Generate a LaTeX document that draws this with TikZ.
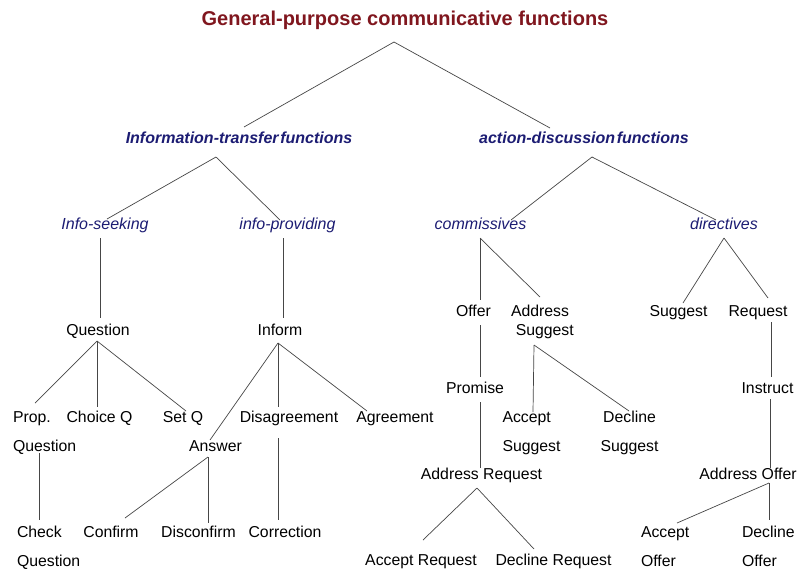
\documentclass[tikz,border=0pt]{standalone}
\usepackage{fontspec}
\setmainfont{Liberation Sans}
\definecolor{titlered}{RGB}{128,22,30}
\definecolor{navy}{RGB}{28,28,115}
\definecolor{linegray}{RGB}{70,70,70}
\newcommand\twoL[3][29pt]{\vtop{\baselineskip=#1\halign{##\hfil\cr #2\cr #3\cr}}}
\newcommand\twoC[3][29pt]{\vtop{\baselineskip=#1\halign{\hfil##\hfil\cr #2\cr #3\cr}}}
\begin{document}
\begin{tikzpicture}[x=1pt,y=-1pt,
  lbl/.style={inner sep=0pt,outer sep=0pt,font=\fontsize{15.8}{19}\selectfont,text=black},
  cat/.style={inner sep=0pt,outer sep=0pt,font=\fontsize{16}{19}\selectfont\bfseries\itshape,text=navy},
  sub/.style={inner sep=0pt,outer sep=0pt,font=\fontsize{16}{19}\selectfont\itshape,text=navy},
  ttl/.style={inner sep=0pt,outer sep=0pt,font=\fontsize{20}{24}\selectfont\bfseries,text=titlered},
  edge/.style={draw=linegray,line width=0.7pt}]
\path[use as bounding box,fill=white] (0,0) rectangle (798,571);
% title and categories
\node[ttl,anchor=base] (title) at (405,25) {General-purpose communicative functions};
\node[cat,anchor=base] (it) at (239,143) {Information-transfer\hspace{0.1em}functions};
\node[cat,anchor=base] (ad) at (584,143) {action-discussion\hspace{0.1em}functions};
\node[sub,anchor=base] (seek) at (105,229.5) {Info-seeking};
\node[sub,anchor=base] (prov) at (287.5,229.5) {info-providing};
\node[sub,anchor=base] (comm) at (480.5,229.5) {commissives};
\node[sub,anchor=base] (dir) at (724,229.5) {directives};
% information transfer side
\node[lbl,anchor=base] (question) at (98,335.5) {Question};
\node[lbl,anchor=base] (inform) at (280,335.5) {Inform};
\node[lbl,anchor=base west] (propq) at (13,422.5) {\twoL{Prop.}{Question}};
\node[lbl,anchor=base] (choiceq) at (99.5,422.5) {Choice Q};
\node[lbl,anchor=base] (setq) at (183,422.5) {Set Q};
\node[lbl,anchor=base] (disag) at (289,422.5) {Disagreement};
\node[lbl,anchor=base] (agree) at (395,422.5) {Agreement};
\node[lbl,anchor=base] (answer) at (215.5,451.5) {Answer};
\node[lbl,anchor=base west] (checkq) at (17,537.5) {\twoL{Check}{Question}};
\node[lbl,anchor=base] (confirm) at (111,537.5) {Confirm};
\node[lbl,anchor=base] (disconfirm) at (198.5,537.5) {Disconfirm};
\node[lbl,anchor=base] (correction) at (285,537.5) {Correction};
% action discussion side
\node[lbl,anchor=base] (offer) at (473.5,316.5) {Offer};
\node[lbl,anchor=base] (addsug) at (540,316.5) {\twoC[19pt]{Address}{\hspace{0.6em}Suggest}};
\node[lbl,anchor=base] (promise) at (475,393.5) {Promise};
\node[lbl,anchor=base west] (accsug) at (502.5,422.5) {\twoL{Accept}{Suggest}};
\node[lbl,anchor=base] (decsug) at (629.5,422.5) {\twoC{Decline}{Suggest}};
\node[lbl,anchor=base] (addreq) at (481.5,479.5) {Address Request};
\node[lbl,anchor=base] (accreq) at (421,565.5) {Accept Request};
\node[lbl,anchor=base] (decreq) at (553.5,565.5) {Decline Request};
\node[lbl,anchor=base] (suggest) at (678.5,316.5) {Suggest};
\node[lbl,anchor=base] (request) at (758,316.5) {Request};
\node[lbl,anchor=base] (instruct) at (767.5,393.5) {Instruct};
\node[lbl,anchor=base] (addoff) at (748,479.5) {Address Offer};
\node[lbl,anchor=base west] (accoff) at (641,537.5) {\twoL{Accept}{Offer}};
\node[lbl,anchor=base west] (decoff) at (742,537.5) {\twoL{Decline}{Offer}};
% connectors
\draw[edge] ([shift={(-11,17)}]title.base) -- ([shift={(5,-16)}]it.base);
\draw[edge] ([shift={(-11,17)}]title.base) -- ([shift={(-34,-15)}]ad.base);
\draw[edge] ([shift={(-23,14)}]it.base) -- ([shift={(2,-10.5)}]seek.base);
\draw[edge] ([shift={(-23,14)}]it.base) -- ([shift={(-7.5,-9.5)}]prov.base);
\draw[edge] ([shift={(8,14)}]ad.base) -- ([shift={(30.5,-9.5)}]comm.base);
\draw[edge] ([shift={(8,14)}]ad.base) -- ([shift={(-8,-9.5)}]dir.base);
\draw[edge] ([shift={(-5,8.5)}]seek.base) -- ([shift={(2,-17.5)}]question.base);
\draw[edge] ([shift={(-4.5,8.5)}]prov.base) -- ([shift={(3,-17.5)}]inform.base);
\draw[edge] ([shift={(-0.5,8.5)}]comm.base) -- ([shift={(6.5,-16.5)}]offer.base);
\draw[edge] ([shift={(-0.5,8.5)}]comm.base) -- ([shift={(0,-19.5)}]addsug.base);
\draw[edge] ([shift={(0,8.5)}]dir.base) -- ([shift={(4.5,-13.5)}]suggest.base);
\draw[edge] ([shift={(0,8.5)}]dir.base) -- ([shift={(10,-18.5)}]request.base);
\draw[edge] ([shift={(-1,5.5)}]question.base) -- ([shift={(22,-19.5)}]propq.base west);
\draw[edge] ([shift={(-1,5.5)}]question.base) -- ([shift={(-2.5,-15.5)}]choiceq.base);
\draw[edge] ([shift={(-1,5.5)}]question.base) -- ([shift={(3,-11.5)}]setq.base);
\draw[edge] ([shift={(-2,7.5)}]inform.base) -- ([shift={(-5.5,-11.5)}]answer.base);
\draw[edge] ([shift={(-2,7.5)}]inform.base) -- ([shift={(-11,-15.5)}]disag.base);
\draw[edge] ([shift={(-2,7.5)}]inform.base) -- ([shift={(-28,-11.5)}]agree.base);
\draw[edge] ([shift={(26,30.5)}]propq.base west) -- ([shift={(22,-17.5)}]checkq.base west);
\draw[edge] ([shift={(-7.5,5.5)}]answer.base) -- ([shift={(14,-19.5)}]confirm.base);
\draw[edge] ([shift={(-7.5,5.5)}]answer.base) -- ([shift={(9.5,-14.5)}]disconfirm.base);
\draw[edge] ([shift={(-11,15.5)}]disag.base) -- ([shift={(-7,-17.5)}]correction.base);
\draw[edge] ([shift={(6.5,8.5)}]offer.base) -- ([shift={(5,-16.5)}]promise.base);
\draw[edge] ([shift={(-6,28.5)}]addsug.base) -- ([shift={(30.5,-10.5)}]accsug.base west);
\draw[edge] ([shift={(-6,28.5)}]addsug.base) -- ([shift={(-0.5,-11.5)}]decsug.base);
\draw[edge] ([shift={(5,8.5)}]promise.base) -- ([shift={(-1.5,-11.5)}]addreq.base);
\draw[edge] ([shift={(-4.5,8.5)}]addreq.base) -- ([shift={(2,-25.5)}]accreq.base);
\draw[edge] ([shift={(-4.5,8.5)}]addreq.base) -- ([shift={(-19.5,-16.5)}]decreq.base);
\draw[edge] ([shift={(13,5.5)}]request.base) -- ([shift={(3.5,-16.5)}]instruct.base);
\draw[edge] ([shift={(2.5,5.5)}]instruct.base) -- ([shift={(22,-11.5)}]addoff.base);
\draw[edge] ([shift={(21,3.5)}]addoff.base) -- ([shift={(36,-14.5)}]accoff.base west);
\draw[edge] ([shift={(21,3.5)}]addoff.base) -- ([shift={(27,-17.5)}]decoff.base west);
\end{tikzpicture}
\end{document}
